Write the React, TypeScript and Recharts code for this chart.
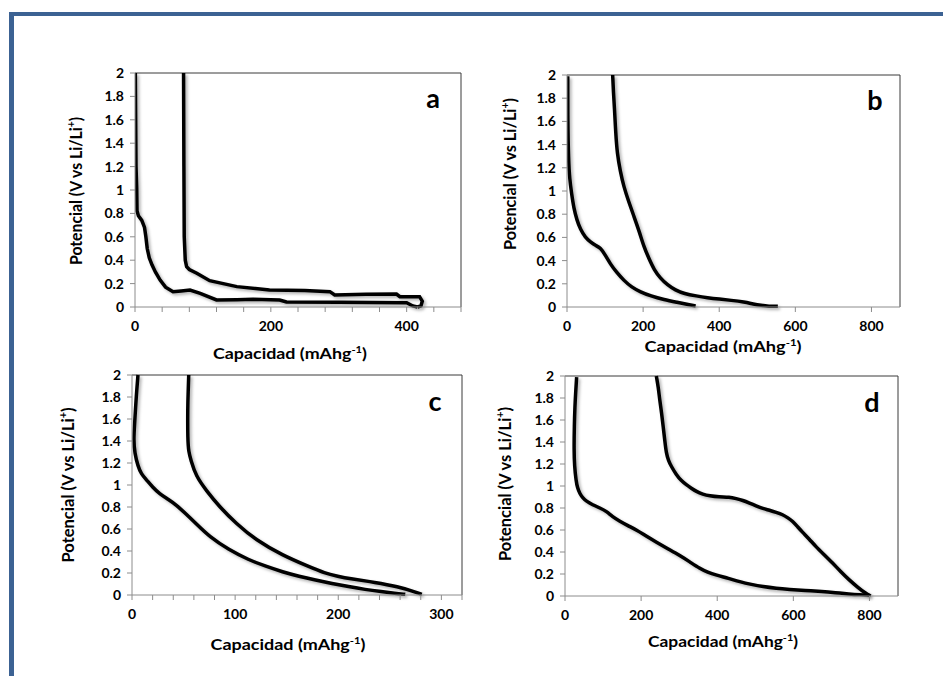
import React from "react";
import { LineChart, Line, XAxis, YAxis, ReferenceLine } from "recharts";

const FONT = "Lato, 'Open Sans', Arial, sans-serif";

// potencial ticks, comunes a los cuatro paneles
const potTicks = [0, 0.2, 0.4, 0.6, 0.8, 1, 1.2, 1.4, 1.6, 1.8, 2];

// panel a
const capA1 = [0.5, 1, 1.5, 2.5, 3, 5, 10, 14, 16, 18, 21, 25, 30, 37, 45, 56, 68, 81, 96, 120, 150, 174, 200, 213, 223, 300, 400, 409, 416];
const potA1 = [2.0, 1.6, 1.2, 1.02, 0.82, 0.78, 0.74, 0.68, 0.6, 0.5, 0.42, 0.36, 0.3, 0.23, 0.17, 0.13, 0.137, 0.145, 0.117, 0.06, 0.062, 0.066, 0.062, 0.06, 0.043, 0.04, 0.037, 0.009, 0.0];
const capA2 = [416, 421, 423, 419, 390, 385, 340, 294, 287, 250, 198, 150, 110, 91, 80, 76, 74, 72.5, 72, 71.5];
const potA2 = [0.0, 0.01, 0.05, 0.088, 0.088, 0.111, 0.108, 0.103, 0.131, 0.14, 0.145, 0.174, 0.225, 0.288, 0.32, 0.344, 0.4, 0.6, 1.2, 2.0];
const capTicksA = [0, 40, 80, 120, 160, 200, 240, 280, 320, 360, 400, 440, 480];

// panel b
const capB1 = [2, 2, 4, 7, 12, 18, 26, 35, 48, 62, 75, 88, 100, 114, 130, 149, 170, 193, 220, 255, 290, 320, 338];
const potB1 = [1.99, 1.6, 1.27, 1.1, 0.98, 0.85, 0.75, 0.67, 0.6, 0.56, 0.53, 0.51, 0.45, 0.37, 0.3, 0.23, 0.17, 0.13, 0.095, 0.063, 0.04, 0.02, 0.009];
const capB2 = [120, 122, 125, 128, 132, 140, 149, 162, 176, 190, 202, 215, 229, 245, 264, 285, 308, 340, 369, 400, 431, 466, 490, 510, 530, 554];
const potB2 = [2.0, 1.85, 1.7, 1.5, 1.32, 1.17, 1.04, 0.91, 0.78, 0.65, 0.52, 0.42, 0.32, 0.25, 0.19, 0.145, 0.115, 0.095, 0.08, 0.068, 0.058, 0.043, 0.025, 0.014, 0.006, 0.006];
const capTicksB = [0, 200, 400, 600, 800];

// panel c
const capC1 = [5.8, 4.5, 3.5, 2.5, 1.6, 2.6, 5.8, 9, 13.8, 20, 26.7, 35, 42.8, 52, 62, 75, 94, 113, 130, 146, 162, 178, 194, 210, 226, 242, 255, 265];
const potC1 = [2.0, 1.85, 1.71, 1.55, 1.41, 1.29, 1.17, 1.1, 1.05, 0.98, 0.92, 0.87, 0.82, 0.74, 0.65, 0.53, 0.41, 0.32, 0.26, 0.21, 0.17, 0.136, 0.105, 0.076, 0.05, 0.03, 0.015, 0.006];
const capC2 = [55, 54.5, 54, 54, 55, 57, 62, 72, 85, 101, 120, 146, 171, 187, 200, 210, 236, 258, 274, 281];
const potC2 = [2.0, 1.85, 1.71, 1.41, 1.3, 1.23, 1.08, 0.95, 0.8, 0.65, 0.5, 0.36, 0.26, 0.197, 0.17, 0.15, 0.115, 0.076, 0.03, 0.006];
const capTicksC = [0, 20, 40, 60, 80, 100, 120, 140, 160, 180, 200, 220, 240, 260, 280, 300, 320];

// panel d
const capD1 = [30.6, 28, 26, 24.5, 23.6, 25, 29, 33, 39, 47, 57, 72, 92, 109, 125, 144, 165, 188, 213, 240, 270, 301, 328, 354, 375, 397, 430, 459, 490, 520, 555, 590, 630, 677, 710, 747, 775, 799];
const potD1 = [1.99, 1.85, 1.72, 1.55, 1.33, 1.18, 1.05, 0.98, 0.93, 0.89, 0.86, 0.83, 0.8, 0.77, 0.72, 0.68, 0.64, 0.6, 0.545, 0.49, 0.43, 0.37, 0.31, 0.25, 0.215, 0.19, 0.16, 0.13, 0.105, 0.085, 0.07, 0.06, 0.05, 0.04, 0.03, 0.018, 0.012, 0.009];
const capD2 = [240, 245, 249, 254, 258, 262, 266, 272, 279, 293, 305, 319, 332, 345, 362, 380, 405, 432, 450, 467, 485, 502, 520, 537, 555, 572, 586, 598, 611, 624, 641, 659, 681, 703, 725, 747, 769, 790, 803];
const potD2 = [2.0, 1.9, 1.78, 1.66, 1.54, 1.42, 1.3, 1.23, 1.18, 1.1, 1.05, 1.01, 0.98, 0.95, 0.925, 0.91, 0.9, 0.9, 0.885, 0.87, 0.845, 0.82, 0.795, 0.78, 0.76, 0.74, 0.71, 0.68, 0.63, 0.58, 0.52, 0.45, 0.375, 0.3, 0.22, 0.145, 0.08, 0.024, 0.0];

const toPoints = (cap: number[], pot: number[]) => cap.map((x, i) => ({ x, v: pot[i] }));

type Rect = { left: number; top: number; right: number; bottom: number };

interface PanelProps {
  plot: Rect;
  xMax: number;
  xTicks: number[];
  labelEvery: number;
  curve: "linear" | "basis";
  series: { x: number; v: number }[][];
}

const TICK = { fill: "#000", fontSize: 14, fontWeight: 700, fontFamily: FONT };
const AXIS = "#8c8c8c";
const BORDER = "#3a3a3a";

function Panel({ plot, xMax, xTicks, labelEvery, curve, series }: PanelProps) {
  const ml = 60, mt = 10, mr = 10, mb = 30;
  const w = plot.right - plot.left + ml + mr;
  const h = plot.bottom - plot.top + mt + mb;
  return (
    <div style={{ position: "absolute", left: plot.left - ml, top: plot.top - mt }}>
      <LineChart width={w} height={h} margin={{ top: mt, right: mr, left: 0, bottom: 0 }}>
        <XAxis
          type="number"
          dataKey="x"
          domain={[0, xMax]}
          ticks={xTicks}
          interval={0}
          allowDataOverflow
          height={mb}
          stroke={AXIS}
          tick={TICK}
          tickSize={5}
          tickMargin={9}
          tickFormatter={(v: number) => (v % labelEvery === 0 ? String(v) : "")}
        />
        <YAxis
          type="number"
          domain={[0, 2]}
          ticks={potTicks}
          interval={0}
          width={ml}
          stroke={AXIS}
          tick={TICK}
          tickSize={5}
          tickMargin={6}
          tickFormatter={(v: number) => String(Math.round(v * 10) / 10)}
        />
        <ReferenceLine y={2} stroke={BORDER} />
        <ReferenceLine x={xMax} stroke={BORDER} />
        {series.map((s, i) => (
          <Line
            key={i}
            data={s}
            dataKey="v"
            type={curve}
            stroke="#000"
            strokeWidth={3.5}
            dot={false}
            activeDot={false}
            isAnimationActive={false}
          />
        ))}
      </LineChart>
    </div>
  );
}

function XTitle({ cx, y, len }: { cx: number; y: number; len: number }) {
  return (
    <text x={cx} y={y} textAnchor="middle" fontSize={16} fontWeight={700} fontFamily={FONT}
      textLength={len} lengthAdjust="spacingAndGlyphs">
      Capacidad (mAhg<tspan fontSize={10} dy={-6}>-1</tspan><tspan dy={6}>)</tspan>
    </text>
  );
}

function YTitle({ x, cy, len }: { x: number; cy: number; len: number }) {
  return (
    <text x={x} y={cy} textAnchor="middle" fontSize={17} fontWeight={700} fontFamily={FONT}
      transform={`rotate(-90 ${x} ${cy})`} textLength={len} lengthAdjust="spacingAndGlyphs">
      Potencial (V vs Li/Li<tspan fontSize={11} dy={-7}>+</tspan><tspan dy={7}>)</tspan>
    </text>
  );
}

export default function App() {
  return (
    <div style={{ position: "absolute", left: 0, top: 0, width: 943, height: 676, background: "#fff", overflow: "hidden" }}>
      <style>{`.recharts-line-curve { filter: drop-shadow(2px 2px 1.5px rgba(0,0,0,0.3)); }`}</style>
      <div style={{ position: "absolute", left: 9, top: 12, width: 960, height: 700, borderLeft: "5px solid #3c6293", borderTop: "4px solid #3c6293" }} />

      <Panel plot={{ left: 135, top: 73, right: 461, bottom: 307 }} xMax={480} xTicks={capTicksA} labelEvery={200} curve="linear"
        series={[toPoints(capA1, potA1), toPoints(capA2, potA2)]} />
      <Panel plot={{ left: 567, top: 75, right: 900, bottom: 307 }} xMax={875} xTicks={capTicksB} labelEvery={200} curve="basis"
        series={[toPoints(capB1, potB1), toPoints(capB2, potB2)]} />
      <Panel plot={{ left: 132, top: 375, right: 462, bottom: 595 }} xMax={320} xTicks={capTicksC} labelEvery={100} curve="basis"
        series={[toPoints(capC1, potC1), toPoints(capC2, potC2)]} />
      <Panel plot={{ left: 565, top: 376, right: 898, bottom: 596 }} xMax={875} xTicks={capTicksB} labelEvery={200} curve="basis"
        series={[toPoints(capD1, potD1), toPoints(capD2, potD2)]} />

      <svg width={943} height={676} style={{ position: "absolute", left: 0, top: 0, pointerEvents: "none" }}>
        <XTitle cx={290} y={359} len={154} />
        <XTitle cx={723} y={352} len={157} />
        <XTitle cx={288} y={650} len={155} />
        <XTitle cx={723} y={647} len={150} />
        <YTitle x={82} cy={191} len={148} />
        <YTitle x={516} cy={174} len={152} />
        <YTitle x={74} cy={485} len={155} />
        <YTitle x={511} cy={484} len={154} />
        <g fontFamily={FONT} fontWeight={700} fontSize={27} textAnchor="middle">
          <text x={433} y={108}>a</text>
          <text x={875} y={110}>b</text>
          <text x={435} y={411}>c</text>
          <text x={872} y={412}>d</text>
        </g>
      </svg>
    </div>
  );
}
